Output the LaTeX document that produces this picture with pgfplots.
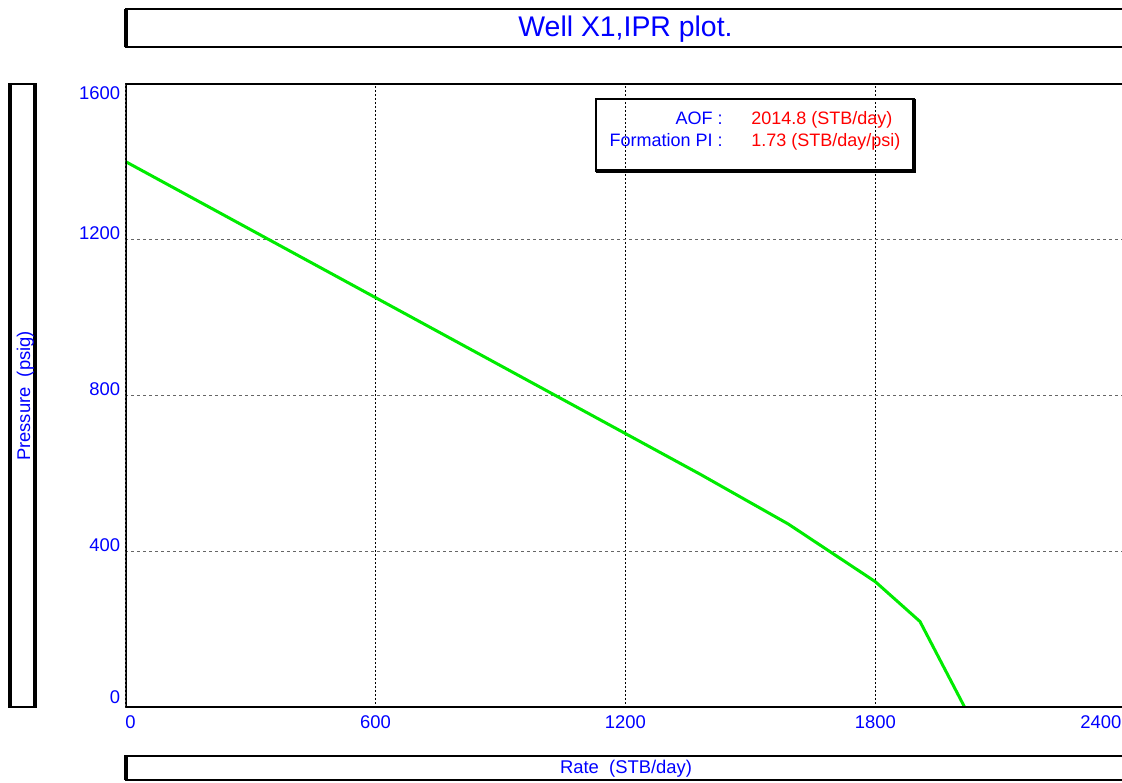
\documentclass[border=0pt]{standalone}
\usepackage{pgfplots}
\pgfplotsset{compat=1.18}
\usepackage{fontspec}
\setmainfont{Liberation Sans}
\definecolor{lblue}{RGB}{0,0,255}
\definecolor{lred}{RGB}{255,0,0}
\definecolor{lgreen}{RGB}{0,235,0}

\begin{document}
\begin{tikzpicture}[x=0.5pt,y=0.5pt]
\useasboundingbox (0,0) rectangle (1122,782);
\clip (0,0) rectangle (1122,782);

\begin{axis}[
  at={(62.7pt,37.15pt)}, anchor=south west,
  width=500pt, height=311.95pt, scale only axis,
  xmin=0, xmax=2400, ymin=0, ymax=1600,
  xtick={0,600,1200,1800,2400},
  ytick={0,400,800,1200,1600},
  xticklabels={\makebox[0pt][l]{0},600,1200,1800,\makebox[0pt][r]{2400\hspace{2pt}}},
  yticklabels={\raisebox{2.2pt}{0},400,800,1200,\raisebox{-8pt}{1600}},
  major tick length=0pt,
  axis line style={draw=none},
  grid=major,
  x grid style={black, line width=0.5pt, dash pattern=on 1pt off 1pt},
  y grid style={black!60, line width=0.5pt, dash pattern=on 1.5pt off 1.5pt},
  tick label style={font=\fontsize{9.2}{10}\selectfont, text=lblue},
  /pgf/number format/assume math mode=true,
  xticklabel style={anchor=north, inner sep=0pt, yshift=-3.6pt},
  yticklabel style={anchor=base east, inner sep=0pt, xshift=-2.5pt},
]
% composite IPR curve
\addplot[color=lgreen, line width=1.5pt, line join=round] coordinates {
  (0,1400.7) (1379,599) (1591,471) (1800,323) (1907,221) (2014.8,0)
};
% plot frame: heavy left and bottom edges
\draw[line width=1.2pt] (rel axis cs:0,1) -- (rel axis cs:1,1) -- (rel axis cs:1,0);
\draw[line width=2pt, line cap=rect] (rel axis cs:0,1) -- (rel axis cs:0,0) -- (rel axis cs:1,0);
\end{axis}

% title box
\draw[line width=1pt] (125.5,735) rectangle (1130,772.7);
\draw[line width=2pt] (125.5,734.5) -- (125.5,773.2);
\node[anchor=base, inner sep=0pt, text=lblue, font=\fontsize{14.2}{16}\selectfont]
  at (625.5,745) {Well X1,IPR plot.};

% y label box
\draw[line width=1pt] (10.3,75) rectangle (35.3,698.2);
\draw[line width=2pt] (10.3,74.5) -- (10.3,698.7);
\draw[line width=2pt] (35.3,74.5) -- (35.3,698.7);
\node[rotate=90, anchor=base, inner sep=0pt, text=lblue, font=\fontsize{9.2}{10}\selectfont]
  at (30,386) {Pressure\ \ (psig)};

% x label box
\draw[line width=1pt] (125.5,2.5) rectangle (1130,26.5);
\draw[line width=2pt] (125.5,2) -- (125.5,27);
\node[anchor=base, inner sep=0pt, text=lblue, font=\fontsize{9.2}{10}\selectfont]
  at (626,9) {Rate\ \ (STB/day)};

% info box
\draw[line width=1pt] (596,611) rectangle (914,682.5);
\draw[line width=2pt] (914,683) -- (914,611) -- (596,611);
\node[anchor=base east, inner sep=0pt, text=lblue, font=\fontsize{9}{10}\selectfont]
  at (723,657.7) {AOF :};
\node[anchor=base east, inner sep=0pt, text=lblue, font=\fontsize{9}{10}\selectfont]
  at (723,635.3) {Formation PI :};
\node[anchor=base west, inner sep=0pt, text=lred, font=\fontsize{9}{10}\selectfont]
  at (751,657.7) {2014.8 (STB/day)};
\node[anchor=base west, inner sep=0pt, text=lred, font=\fontsize{9}{10}\selectfont]
  at (751,635.3) {1.73 (STB/day/psi)};
\end{tikzpicture}
\end{document}
